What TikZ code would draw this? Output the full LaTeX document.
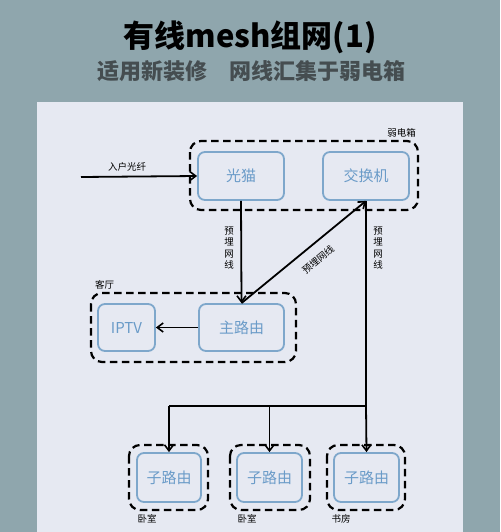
\documentclass[tikz,border=0pt]{standalone}
\usepackage{fontspec}
\newfontfamily\cjk{Noto Sans CJK SC}
\usetikzlibrary{arrows.meta}
\definecolor{bgc}{HTML}{8FA6AD}
\definecolor{panel}{HTML}{E6E9F2}
\definecolor{boxline}{HTML}{7EA7CB}
\definecolor{boxtext}{HTML}{6A9BC8}
\definecolor{subc}{HTML}{454D50}
\tikzset{
  x=1pt, y=-1pt,
  dev/.style={draw=boxline, line width=1.8pt, rounded corners=7pt, fill=panel, text=boxtext, font=\cjk\fontsize{15}{15}\selectfont, inner sep=0pt},
  grp/.style={draw=black, line width=2.2pt, dash pattern=on 7.5pt off 4.5pt, rounded corners=11pt},
  lbl/.style={font=\cjk\fontsize{9.5}{10}\selectfont, text=black, inner sep=0pt},
  conn/.style={line width=1.8pt, -{Straight Barb[length=6pt,width=9pt,line width=1.6pt]}},
  wire/.style={line width=1.8pt}
}
\begin{document}
\begin{tikzpicture}
\fill[bgc] (0,0) rectangle (500,532);
\useasboundingbox (0,0) rectangle (500,532);
\fill[panel] (37,102) rectangle (463,532);
% titles
\node[font=\cjk\bfseries\fontsize{31}{31}\selectfont] (title) at (250,37) {有线mesh组网(1)};
\node[font=\cjk\bfseries\fontsize{22}{22}\selectfont, text=subc] (sub) at (251,71) {适用新装修\hspace{1em}网线汇集于弱电箱};
% group boxes
\draw[grp] (190,141) rectangle (418,210);
\node[lbl, anchor=south east] (gweak) at (416,137) {弱电箱};
\draw[grp] (91,293) rectangle (296,362);
\node[lbl, anchor=south west] (gliving) at (95,289) {客厅};
\draw[grp] (129,445) rectangle (208,510);
\draw[grp] (230,445) rectangle (310,510);
\draw[grp] (327,445) rectangle (405,510);
\node[lbl] (r1) at (147,519) {卧室};
\node[lbl] (r2) at (247,519) {卧室};
\node[lbl] (r3) at (341,519) {书房};
% devices
\node[dev, minimum width=86pt, minimum height=48pt] (modem) at (241,176) {光猫};
\node[dev, minimum width=86pt, minimum height=48pt] (switch) at (366,176) {交换机};
\node[dev, minimum width=57pt, minimum height=47pt] (iptv) at (126.5,327.5) {IPTV};
\node[dev, minimum width=85pt, minimum height=47pt] (main) at (241.5,327.5) {主路由};
\node[dev, minimum width=64pt, minimum height=49pt] (c1) at (169,477.5) {子路由};
\node[dev, minimum width=65pt, minimum height=49pt] (c2) at (269.5,477.5) {子路由};
\node[dev, minimum width=65pt, minimum height=49pt] (c3) at (366.5,477.5) {子路由};
% fiber
\coordinate (fin) at (81,177);
\draw[conn] (fin) -- (modem.west);
\node[lbl] (fl) at (127,167) {入户光纤};
% modem to main
\draw[conn] (modem.south) -- (main.north);
\node[lbl, align=center, font=\cjk\fontsize{9.5}{11.5}\selectfont] (l1) at (229,248) {预\\埋\\网\\线};
% main to switch diagonal
\draw[conn] (main.north) -- (switch.south);
\node[lbl, rotate=40] (l2) at (318,260) {预埋网线};
% switch down to children
\coordinate (j3) at (366,406);
\coordinate (j1) at (169,406);
\coordinate (j2) at (269.5,406);
\draw[wire] (switch.south) -- (j3);
\draw[wire] (j1) -- (j3);
\node[lbl, align=center, font=\cjk\fontsize{9.5}{11.5}\selectfont] (l3) at (378,248) {预\\埋\\网\\线};
\draw[conn] (j3) -- (c3.north);
\draw[conn] (j1) -- (c1.north);
\draw[conn] (j2) -- (c2.north);
% main to iptv
\draw[conn] (main.west) -- (iptv.east);
\end{tikzpicture}
\end{document}
